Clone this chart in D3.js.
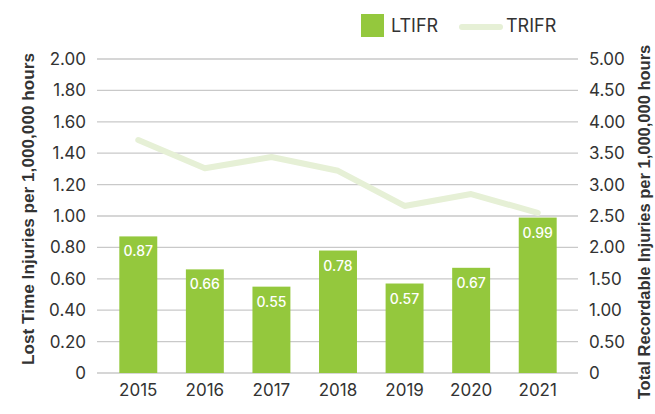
<!DOCTYPE html>
<html>
<head>
<meta charset="utf-8">
<script src="https://cdn.jsdelivr.net/npm/d3@7"></script>
<style>
  body { margin: 0; background: #fff; }
  text { font-family: Inter, "Noto Sans", sans-serif; }
</style>
</head>
<body>
<div id="chart"></div>
<script>
// chart values
const years = ['2015', '2016', '2017', '2018', '2019', '2020', '2021'];
const ltifr = [0.87, 0.66, 0.55, 0.78, 0.57, 0.67, 0.99];
const trifr = [3.71, 3.26, 3.44, 3.22, 2.66, 2.85, 2.55];
const leftTicks = [0, 0.2, 0.4, 0.6, 0.8, 1.0, 1.2, 1.4, 1.6, 1.8, 2.0];
const rightTicks = [0, 0.5, 1.0, 1.5, 2.0, 2.5, 3.0, 3.5, 4.0, 4.5, 5.0];

const width = 655, height = 414;
const barColor = '#94c83d';
const lineColor = '#e6f0d6';
const textColor = '#333333';

const svg = d3.select('#chart')
  .append('svg')
  .attr('width', width)
  .attr('height', height);

const x = d3.scaleBand()
  .domain(years)
  .range([105, 571])
  .paddingInner(0.43)
  .paddingOuter(0.215);

const yLeft = d3.scaleLinear().domain([0, 2]).range([373, 59]);
const yRight = d3.scaleLinear().domain([0, 5]).range([373, 59]);

// grid lines
svg.append('g')
  .selectAll('line')
  .data(leftTicks)
  .enter()
  .append('line')
  .attr('x1', 97)
  .attr('x2', 578)
  .attr('y1', d => yLeft(d))
  .attr('y2', d => yLeft(d))
  .attr('stroke', '#c9c9c9')
  .attr('stroke-width', 1.3);

// left axis labels
const leftAxis = d3.axisLeft(yLeft)
  .tickValues(leftTicks)
  .tickFormat(d => d === 0 ? '0' : d3.format('.2f')(d))
  .tickSize(0)
  .tickPadding(0);
const gl = svg.append('g')
  .attr('transform', 'translate(86,0)')
  .call(leftAxis);
gl.select('.domain').remove();
gl.selectAll('text')
  .attr('fill', textColor)
  .style('font-size', '17px')
  .style('font-family', 'Inter, sans-serif');

// right axis labels
const rightAxis = d3.axisRight(yRight)
  .tickValues(rightTicks)
  .tickFormat(d => d === 0 ? '0' : d3.format('.2f')(d))
  .tickSize(0)
  .tickPadding(0);
const gr = svg.append('g')
  .attr('transform', 'translate(589,0)')
  .call(rightAxis);
gr.select('.domain').remove();
gr.selectAll('text')
  .attr('fill', textColor)
  .style('font-size', '17px')
  .style('font-family', 'Inter, sans-serif');

// x axis labels
const bottomAxis = d3.axisBottom(x).tickSize(0).tickPadding(0);
const gb = svg.append('g')
  .attr('transform', 'translate(0,384)')
  .call(bottomAxis);
gb.select('.domain').remove();
gb.selectAll('text')
  .attr('fill', textColor)
  .style('font-size', '17px')
  .style('font-family', 'Inter, sans-serif');

// bars
svg.append('g')
  .selectAll('rect')
  .data(ltifr)
  .enter()
  .append('rect')
  .attr('x', (d, i) => x(years[i]))
  .attr('y', d => yLeft(d))
  .attr('width', x.bandwidth())
  .attr('height', d => yLeft(0) - yLeft(d))
  .attr('fill', barColor);

// bar labels
svg.append('g')
  .selectAll('text')
  .data(ltifr)
  .enter()
  .append('text')
  .attr('x', (d, i) => x(years[i]) + x.bandwidth() / 2)
  .attr('y', d => yLeft(d) + 20)
  .attr('text-anchor', 'middle')
  .attr('fill', '#fff')
  .style('font-size', '14px')
  .style('font-weight', 500)
  .text(d => d3.format('.2f')(d));

// TRIFR line
const line = d3.line()
  .x((d, i) => x(years[i]) + x.bandwidth() / 2)
  .y(d => yRight(d));
svg.append('path')
  .datum(trifr)
  .attr('d', line)
  .attr('fill', 'none')
  .attr('stroke', lineColor)
  .attr('stroke-width', 6)
  .attr('stroke-linecap', 'round')
  .attr('stroke-linejoin', 'round');

// axis titles
svg.append('text')
  .attr('transform', 'translate(34,209) rotate(-90)')
  .attr('text-anchor', 'middle')
  .attr('fill', textColor)
  .style('font-family', '"Liberation Sans", Arial, sans-serif')
  .style('font-size', '17.2px')
  .style('font-weight', 'bold')
  .text('Lost Time Injuries per 1,000,000 hours');

svg.append('text')
  .attr('transform', 'translate(650,222) rotate(-90)')
  .attr('text-anchor', 'middle')
  .attr('fill', textColor)
  .style('font-family', '"Liberation Sans", Arial, sans-serif')
  .style('font-size', '16.5px')
  .style('font-weight', 'bold')
  .text('Total Recordable Injuries per 1,000,000 hours');

// legend
const legend = svg.append('g');
legend.append('rect')
  .attr('x', 361).attr('y', 14)
  .attr('width', 23).attr('height', 23)
  .attr('fill', barColor);
legend.append('text')
  .attr('x', 391).attr('y', 32)
  .attr('fill', textColor)
  .style('font-size', '18px')
  .text('LTIFR');
legend.append('line')
  .attr('x1', 462).attr('x2', 500)
  .attr('y1', 27).attr('y2', 27)
  .attr('stroke', lineColor)
  .attr('stroke-width', 6)
  .attr('stroke-linecap', 'round');
legend.append('text')
  .attr('x', 506).attr('y', 32)
  .attr('fill', textColor)
  .style('font-size', '18px')
  .text('TRIFR');
</script>
</body>
</html>
